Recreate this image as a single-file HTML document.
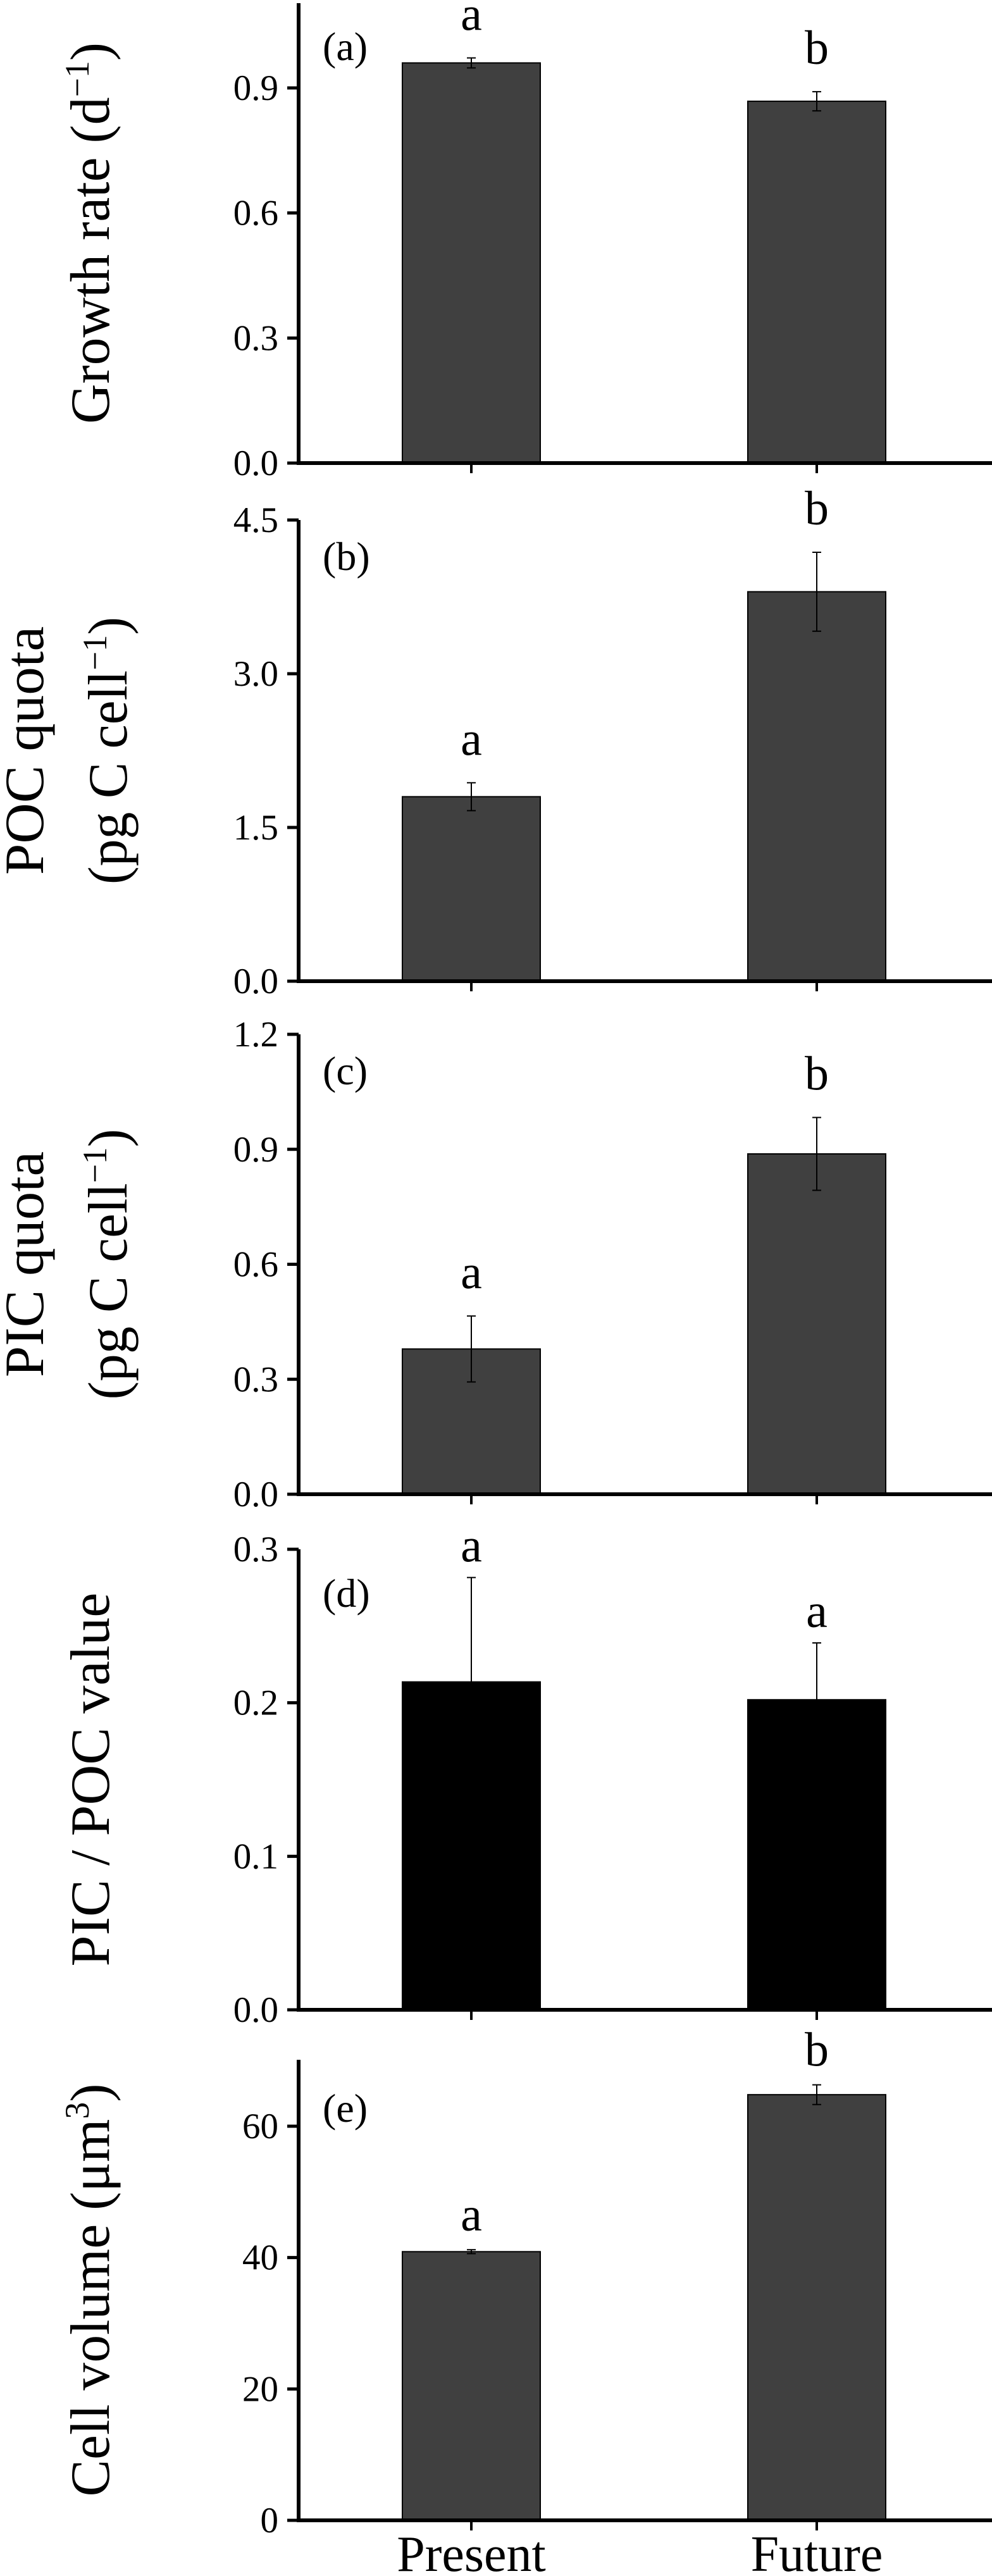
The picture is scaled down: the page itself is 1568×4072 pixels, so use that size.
<!DOCTYPE html>
<html><head><meta charset="utf-8"><style>
html,body{margin:0;padding:0;background:#fff;}
svg{display:block;font-family:"Liberation Serif","Times New Roman",serif;}
</style></head>
<body>
<svg id="chart" width="1568" height="4072" viewBox="0 0 1568 4072" xmlns="http://www.w3.org/2000/svg"></svg>
<script>
// ---- data ----
const categories = ["Present", "Future"];
const growthValues = [0.96, 0.868];
const growthErrors = [0.012, 0.023];
const growthLetters = ["a", "b"];
const pocValues = [1.80, 3.80];
const pocErrors = [0.136, 0.385];
const pocLetters = ["a", "b"];
const picValues = [0.379, 0.888];
const picErrors = [0.086, 0.095];
const picLetters = ["a", "b"];
const ratioValues = [0.2136, 0.202];
const ratioErrors = [0.068, 0.037];
const ratioLetters = ["a", "a"];
const volumeValues = [40.9, 64.8];
const volumeErrors = [0.3, 1.5];
const volumeLetters = ["a", "b"];
const growthTicks = ["0.0", "0.3", "0.6", "0.9"];
const pocTicks = ["0.0", "1.5", "3.0", "4.5"];
const picTicks = ["0.0", "0.3", "0.6", "0.9", "1.2"];
const ratioTicks = ["0.0", "0.1", "0.2", "0.3"];
const volumeTicks = ["0", "20", "40", "60"];

const NS = "http://www.w3.org/2000/svg";
const svg = document.getElementById("chart");
function mk(tag, attrs, parent) {
  const e = document.createElementNS(NS, tag);
  for (const k in attrs) e.setAttribute(k, attrs[k]);
  (parent || svg).appendChild(e);
  return e;
}

const AX = 472, XR = 1568;
const barCenters = [745, 1291];
const barW = 218;

const panels = [
  {id:"a", vals:growthValues, errs:growthErrors, letters:growthLetters, ticks:growthTicks,
   y0:732, yTopTick:139, vTop:0.9, axisTop:5, fill:"#404040", labelY:73,
   title:[{t:"Growth rate (d", sup:"−1", tail:")", x:172, len:603}], letterOff:44},
  {id:"b", vals:pocValues, errs:pocErrors, letters:pocLetters, ticks:pocTicks,
   y0:1551, yTopTick:822, vTop:4.5, axisTop:822, fill:"#404040", labelY:879,
   title:[{t:"POC quota", x:68, len:393},{t:"(pg C cell", sup:"−1", tail:")", x:200, len:423}], letterOff:44},
  {id:"c", vals:picValues, errs:picErrors, letters:picLetters, ticks:picTicks,
   y0:2362, yTopTick:1635, vTop:1.2, axisTop:1635, fill:"#404040", labelY:1692,
   title:[{t:"PIC quota", x:68, len:357},{t:"(pg C cell", sup:"−1", tail:")", x:200, len:428}], letterOff:44},
  {id:"d", vals:ratioValues, errs:ratioErrors, letters:ratioLetters, ticks:ratioTicks,
   y0:3177, yTopTick:2449, vTop:0.3, axisTop:2449, fill:"#000000", labelY:2518,
   title:[{t:"PIC / POC value", x:172, len:591}], letterOff:25},
  {id:"e", vals:volumeValues, errs:volumeErrors, letters:volumeLetters, ticks:volumeTicks,
   y0:3984, yTopTick:3361, vTop:60, axisTop:3256, fill:"#404040", labelY:3332,
   title:[{t:"Cell volume (μm", sup:"3", tail:")", x:172, len:653}], letterOff:30}
];

panels.forEach(p => {
  const g = mk("g", {});
  
  
  const scale = (p.y0 - p.yTopTick) / p.vTop;
  const y = v => p.y0 - v * scale;
  const cy = (p.y0 + p.axisTop) / 2;

  p.vals.forEach((v, i) => {
    const r = mk("rect", {x: barCenters[i] - barW/2, y: y(v), width: barW, height: p.y0 - y(v),
      fill: p.fill, stroke: "#000", "stroke-width": 2}, g);
    
    
    const e = p.errs[i];
    const eg = mk("g", {stroke: "#000", "stroke-width": 2}, g);
    
    
    mk("line", {x1: barCenters[i], x2: barCenters[i], y1: y(v + e), y2: y(v - e)}, eg);
    mk("line", {x1: barCenters[i] - 7, x2: barCenters[i] + 7, y1: y(v + e), y2: y(v + e)}, eg);
    mk("line", {x1: barCenters[i] - 7, x2: barCenters[i] + 7, y1: y(v - e), y2: y(v - e)}, eg);
    const lt = mk("text", {x: barCenters[i], y: y(v + e) - p.letterOff, "text-anchor": "middle", "font-size": 76}, g);
    lt.textContent = p.letters[i];
    
    
  });

  const ya = mk("line", {x1: AX, x2: AX, y1: p.axisTop, y2: p.y0 + 3, stroke: "#000", "stroke-width": 6}, g);
  
  
  const xa = mk("line", {x1: AX - 3, x2: XR, y1: p.y0, y2: p.y0, stroke: "#000", "stroke-width": 6}, g);
  
  
  barCenters.forEach(cx => mk("line", {x1: cx, x2: cx, y1: p.y0, y2: p.y0 + 16, stroke: "#000", "stroke-width": 4}, g));

  p.ticks.forEach((t, i) => {
    const v = parseFloat(t);
    mk("line", {x1: AX - 18, x2: AX, y1: y(v), y2: y(v), stroke: "#000", "stroke-width": 5}, g);
    const tt = mk("text", {x: 440, y: y(v) + 19, "text-anchor": "end", "font-size": 57}, g);
    tt.textContent = t;
    
    
  });

  const pl = mk("text", {x: 510, y: p.labelY + 22, "font-size": 64}, g);
  pl.textContent = "(" + p.id + ")";
  
  

  p.title.forEach(tl => {
    const t = mk("text", {transform: "translate(" + tl.x + "," + cy + ") rotate(-90)", "text-anchor": "middle",
      "font-size": 88, textLength: tl.len, lengthAdjust: "spacingAndGlyphs"}, g);
    
    
    const s1 = mk("tspan", {}, t); s1.textContent = tl.t;
    if (tl.sup) {
      const s2 = mk("tspan", {dy: -32, "font-size": 54}, t); s2.textContent = tl.sup;
      const s3 = mk("tspan", {dy: 32}, t); s3.textContent = tl.tail;
    }
  });
});

categories.forEach((c, i) => {
  const t = mk("text", {x: barCenters[i], y: 4064, "text-anchor": "middle", "font-size": 80});
  t.textContent = c;
  
  
});
</script>
</body></html>
